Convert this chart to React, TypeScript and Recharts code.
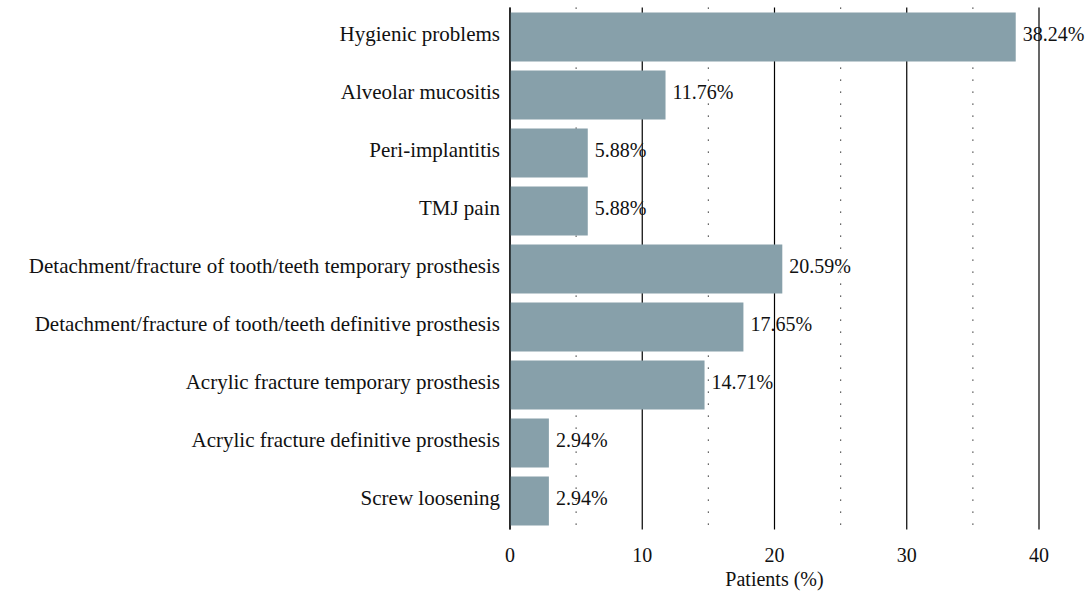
import React from 'react';
import { BarChart, Bar, XAxis, YAxis, CartesianGrid, LabelList } from 'recharts';

const categories = [
  'Hygienic problems',
  'Alveolar mucositis',
  'Peri-implantitis',
  'TMJ pain',
  'Detachment/fracture of tooth/teeth temporary prosthesis',
  'Detachment/fracture of tooth/teeth definitive prosthesis',
  'Acrylic fracture temporary prosthesis',
  'Acrylic fracture definitive prosthesis',
  'Screw loosening',
];
const patientsPct = [38.24, 11.76, 5.88, 5.88, 20.59, 17.65, 14.71, 2.94, 2.94];
// grid positions every 5; labelled ticks every 10
const gridTicks = [0, 5, 10, 15, 20, 25, 30, 35, 40];
const labelStep = 10;

const data = categories.map((c, i) => ({ name: c, value: patientsPct[i] }));

const FONT = '"Liberation Serif", "Times New Roman", serif';
const textStyle = { fontFamily: FONT };

const GridLine = (props: any) => {
  const { x1, y1, x2, y2, index } = props;
  const dotted = index % 2 === 1;
  return (
    <line
      key={'gl-' + index}
      x1={x1}
      y1={y1}
      x2={x2}
      y2={y2}
      stroke={dotted ? '#333' : '#000'}
      strokeWidth={1.2}
      strokeDasharray={dotted ? '1.2 10.8' : undefined}
      fill="none"
    />
  );
};

export default function App() {
  return (
    <div style={{ position: 'absolute', left: 0, top: 0, background: '#fff', fontFamily: FONT }}>
      <BarChart
        width={1089}
        height={592}
        data={data}
        layout="vertical"
        margin={{ top: 7.5, right: 50, bottom: 0, left: 0 }}
        barSize={49}
        style={textStyle}
      >
        <CartesianGrid horizontal={false} vertical={GridLine} />
        <XAxis
          type="number"
          domain={[0, 40]}
          ticks={gridTicks}
          interval={0}
          axisLine={false}
          tickLine={false}
          tickSize={0}
          tickMargin={18}
          height={62.5}
          tickFormatter={(v: number) => (v % labelStep === 0 ? String(v) : '')}
          tick={{ fill: '#111', fontSize: 20, fontFamily: FONT, style: textStyle }}
          label={{ value: 'Patients (%)', position: 'insideBottom', offset: 6, fill: '#111', fontSize: 20, fontFamily: FONT, style: textStyle }}
        />
        <YAxis
          type="category"
          dataKey="name"
          width={510}
          axisLine={{ stroke: '#000', strokeWidth: 1.2 }}
          tickLine={false}
          tickSize={0}
          tickMargin={10}
          interval={0}
          tick={{ fill: '#111', fontSize: 21, fontFamily: FONT, style: textStyle, dy: -3 }}
        />
        <Bar dataKey="value" fill="#87A0AA" isAnimationActive={false}>
          <LabelList
            dataKey="value"
            position="right"
            offset={7}
            formatter={(v: number) => v.toFixed(2) + '%'}
            fontFamily={FONT}
            dy={-3}
            style={{ fill: '#111', fontSize: 20, fontFamily: FONT }}
          />
        </Bar>
      </BarChart>
    </div>
  );
}
